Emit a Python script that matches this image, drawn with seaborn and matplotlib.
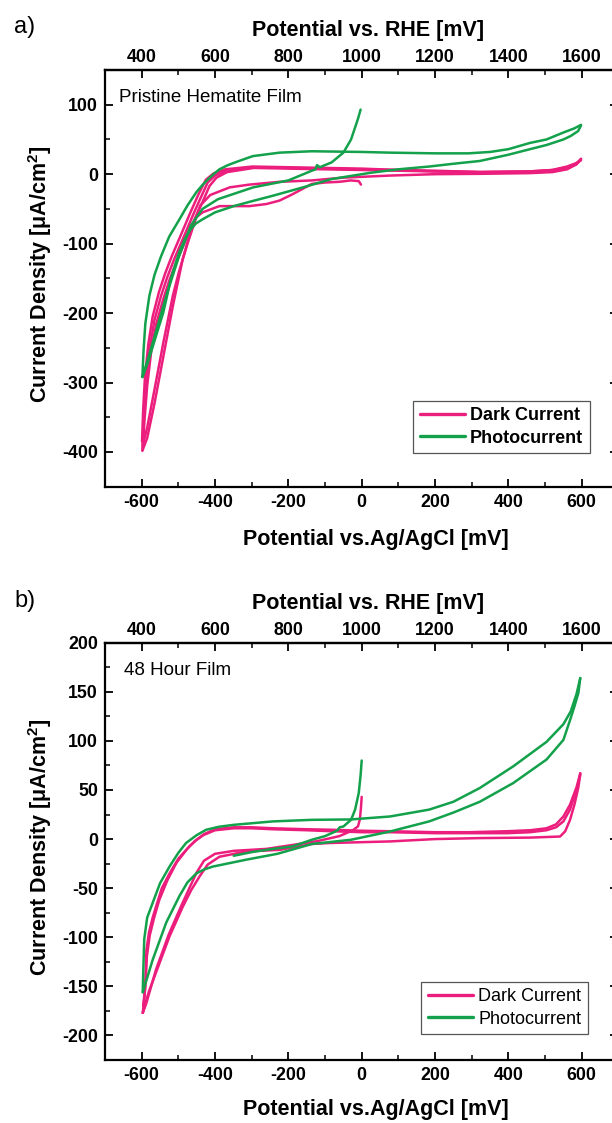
import numpy as np
import pandas as pd
import matplotlib
matplotlib.use("Agg")
import matplotlib.pyplot as plt
import seaborn as sns
from matplotlib.lines import Line2D
from matplotlib.ticker import MultipleLocator

# ----------------------------------------------------
# data (mV vs Ag/AgCl, uA/cm2)
# ----------------------------------------------------

# panel a - pristine film, dark current
dark_a_init_x = [-2, -8, -30, -61, -100, -136, -189, -224, -260, -306, -388, -434, -451, -475, -498, -515, -540, -565, -585, -597]
dark_a_init_y = [-15, -10, -9, -11, -12, -14, -29, -38, -43, -46, -46, -55, -62, -100, -140, -175, -240, -310, -365, -390]
dark_a_up1_x = [-598, -594, -588, -578, -565, -547, -530, -511, -485, -461, -440, -420, -400, -370, -297, -200, -100, 0, 100, 200, 322, 459, 520, 560, 585, 598]
dark_a_up1_y = [-398, -350, -300, -250, -210, -175, -148, -122, -90, -60, -35, -12, -2, 5, 10, 9, 8, 7, 6, 4, 3, 4, 6, 10, 15, 22]
dark_a_up2_x = [-599, -596, -591, -582, -570, -553, -536, -517, -491, -467, -446, -425, -404, -372, -298, -200, -100, 0, 100, 200, 322, 459, 520, 560, 585, 598]
dark_a_up2_y = [-385, -340, -292, -245, -205, -170, -143, -117, -85, -55, -30, -8, 1, 7, 11, 10, 9, 8, 6, 5, 3, 4, 6, 11, 16, 20]
dark_a_up3_x = [-597, -592, -585, -574, -560, -541, -524, -505, -479, -455, -434, -415, -396, -367, -294, -200, -100, 0, 100, 200, 322, 459, 520, 560, 585, 598]
dark_a_up3_y = [-395, -352, -305, -255, -215, -180, -152, -126, -94, -64, -40, -17, -5, 3, 9, 8, 7, 6, 5, 4, 3, 3, 5, 9, 14, 21]
dark_a_down_x = [598, 585, 560, 520, 459, 322, 200, 77, -50, -136, -224, -306, -360, -413, -440, -465, -488, -515, -540, -565, -585, -598]
dark_a_down_y = [22, 14, 7, 3, 1.5, 0.5, 0, -2, -5, -9, -11, -15, -19, -30, -45, -80, -122, -190, -260, -330, -380, -398]

# panel a - pristine film, photocurrent
photo_a_init_x = [-3, -10, -29, -50, -82, -114, -122, -126, -136, -200, -296, -392, -434, -466, -498, -530, -560, -585, -598]
photo_a_init_y = [93, 80, 50, 31, 17, 10, 13, 7, 5, -9, -19, -36, -50, -74, -118, -170, -225, -270, -292]
photo_a_up_x = [-598, -595, -590, -579, -565, -547, -525, -497, -475, -451, -435, -420, -404, -388, -365, -340, -297, -224, -136, 0, 77, 200, 291, 350, 400, 459, 504, 550, 580, 598]
photo_a_up_y = [-292, -255, -215, -175, -145, -118, -90, -65, -45, -26, -16, -8, 0, 7, 13, 18, 26, 31, 33, 32, 31, 30, 30, 32, 36, 45, 50, 60, 66, 71]
photo_a_down_x = [598, 590, 570, 550, 504, 459, 400, 322, 250, 184, 100, 24, -82, -160, -242, -300, -349, -400, -434, -452, -466, -482, -498, -520, -541, -565, -583, -598]
photo_a_down_y = [70, 62, 55, 50, 42, 36, 28, 19, 15, 11, 7, 2, -7, -19, -31, -39, -46, -55, -65, -71, -79, -93, -113, -150, -199, -240, -271, -292]

# panel b - 48 hour film, dark current
dark_b_init_x = [0, -2, -5, -10, -24, -61, -120, -189, -260, -349, -400, -430, -450, -470, -492, -526, -561, -588, -597]
dark_b_init_y = [43, 32, 20, 13, 9, 3, -2, -6, -10, -12, -15, -22, -34, -50, -68, -97, -133, -168, -177]
dark_b_up_x = [-597, -592, -589, -587, -580, -570, -561, -545, -524, -500, -470, -451, -430, -400, -349, -300, -242, -150, -82, 0, 77, 200, 291, 397, 459, 504, 530, 550, 568, 586, 596]
dark_b_up_y = [-177, -160, -140, -113, -95, -80, -69, -50, -35, -20, -7.5, -1, 5, 10, 12, 12, 11, 10, 9.5, 8.5, 8, 7, 7, 8, 9, 11, 15, 23, 35, 53, 67]
dark_b_up2_x = [-596, -590, -586, -578, -566, -552, -530, -505, -476, -455, -432, -400, -349, -300, -242, -150, -82, 0, 77, 200, 291, 397, 459, 504, 530, 550, 568, 586, 596]
dark_b_up2_y = [-170, -150, -120, -98, -80, -62, -42, -24, -10, -2, 4, 9, 11, 11, 10, 9, 8, 7, 7, 6, 6, 6, 7, 9, 12, 18, 30, 50, 65]
dark_b_down_x = [596, 591, 580, 568, 555, 541, 459, 322, 200, 77, -87, -136, -224, -315, -388, -420, -442, -465, -488, -524, -561, -580, -592, -597]
dark_b_down_y = [67, 53, 35, 19.5, 8, 2.6, 1.5, 1, 0, -2.4, -4, -5, -11, -12.6, -18, -26, -38, -52, -69, -99, -136, -155, -170, -177]

# panel b - 48 hour film, photocurrent
photo_b_init_x = [0, -3, -8, -18, -29, -50, -60, -66, -72, -100, -136, -189, -242, -296, -349]
photo_b_init_y = [80, 65, 47, 30, 19.6, 12.8, 12, 9, 7.7, 3, -0.7, -7.5, -10, -13, -17]
photo_b_up_x = [-597, -596, -593, -585, -570, -550, -524, -500, -479, -450, -424, -390, -349, -242, -136, -29, 77, 184, 250, 322, 413, 504, 550, 570, 586, 596]
photo_b_up_y = [-156, -140, -102, -80, -65, -45, -28, -14, -4, 4, 9.5, 12.5, 14.5, 18, 19.6, 20, 23, 30, 38, 52, 74, 99, 117, 130, 148, 164]
photo_b_down_x = [596, 591, 580, 568, 550, 504, 413, 322, 250, 184, 77, -29, -136, -230, -315, -406, -430, -451, -475, -497, -533, -570, -588, -597]
photo_b_down_y = [164, 149, 135, 121, 101, 81, 57, 38, 27, 18, 7.7, -0.7, -5, -15, -21, -28, -31, -35, -44, -58, -85, -123, -145, -156]

series_labels = ['Dark Current', 'Photocurrent']
agcl_ticks = [-600, -400, -200, 0, 200, 400, 600]
rhe_ticks = [400, 600, 800, 1000, 1200, 1400, 1600]
ya_ticks = [-400, -300, -200, -100, 0, 100]
yb_ticks = [-200, -150, -100, -50, 0, 50, 100, 150, 200]

traces = [
    ('a', 'Dark Current', dark_a_init_x, dark_a_init_y),
    ('a', 'Dark Current', dark_a_up1_x, dark_a_up1_y),
    ('a', 'Dark Current', dark_a_up2_x, dark_a_up2_y),
    ('a', 'Dark Current', dark_a_up3_x, dark_a_up3_y),
    ('a', 'Dark Current', dark_a_down_x, dark_a_down_y),
    ('a', 'Photocurrent', photo_a_init_x, photo_a_init_y),
    ('a', 'Photocurrent', photo_a_up_x, photo_a_up_y),
    ('a', 'Photocurrent', photo_a_down_x, photo_a_down_y),
    ('b', 'Dark Current', dark_b_init_x, dark_b_init_y),
    ('b', 'Dark Current', dark_b_up_x, dark_b_up_y),
    ('b', 'Dark Current', dark_b_up2_x, dark_b_up2_y),
    ('b', 'Dark Current', dark_b_down_x, dark_b_down_y),
    ('b', 'Photocurrent', photo_b_init_x, photo_b_init_y),
    ('b', 'Photocurrent', photo_b_up_x, photo_b_up_y),
    ('b', 'Photocurrent', photo_b_down_x, photo_b_down_y),
]

rows = []
for i, (panel, series, xs, ys) in enumerate(traces):
    for x, y in zip(xs, ys):
        rows.append({'panel': panel, 'series': series, 'trace': i, 'E': x, 'J': y})
df = pd.DataFrame(rows)

# ----------------------------------------------------
# style
# ----------------------------------------------------
sns.set_style('ticks', rc={'text.color': 'black', 'axes.labelcolor': 'black',
                           'xtick.color': 'black', 'ytick.color': 'black',
                           'axes.edgecolor': 'black'})
plt.rcParams['font.family'] = ['Liberation Sans', 'DejaVu Sans']
plt.rcParams['axes.unicode_minus'] = False
plt.rcParams['mathtext.fontset'] = 'custom'
plt.rcParams['mathtext.rm'] = 'Liberation Sans'
plt.rcParams['mathtext.bf'] = 'Liberation Sans:bold'

PINK = '#EC1E7D'
GREEN = '#13A14B'
palette = {'Dark Current': PINK, 'Photocurrent': GREEN}

fig = plt.figure(figsize=(6.12, 11.23), dpi=100)
ax_a = fig.add_axes([105 / 612, 1 - 486.7 / 1123, 513.4 / 612, 416.7 / 1123])
ax_b = fig.add_axes([105 / 612, 1 - 1060 / 1123, 513.4 / 612, 417.3 / 1123])

setup = {
    'a': dict(ax=ax_a, ylim=(-450, 150), yticks=ya_ticks, yminor=50,
              note='Pristine Hematite Film', note_x=0.028, legend_weight='bold',
              anchor=(0.944, 0.206), xl_y=-0.101),
    'b': dict(ax=ax_b, ylim=(-225, 200), yticks=yb_ticks, yminor=25,
              note='48 Hour Film', note_x=0.037, legend_weight='normal',
              anchor=(0.940, 0.187), xl_y=-0.094),
}

for panel, cfg in setup.items():
    ax = cfg['ax']
    sub = df[df['panel'] == panel]
    for series in series_labels:
        sns.lineplot(data=sub[sub['series'] == series], x='E', y='J',
                     units='trace', estimator=None, sort=False,
                     color=palette[series], lw=1.8, legend=False, ax=ax)

    ax.set_xlim(-700, 700)
    ax.set_ylim(*cfg['ylim'])
    ax.set_xticks(agcl_ticks)
    ax.xaxis.set_minor_locator(MultipleLocator(100))
    ax.set_yticks(cfg['yticks'])
    ax.yaxis.set_minor_locator(MultipleLocator(cfg['yminor']))

    ax.tick_params(which='major', direction='in', length=6, width=1.3,
                   labelsize=12.8, pad=5, top=False, right=True, colors='black')
    ax.tick_params(which='minor', direction='in', length=3.5, width=1.1,
                   top=False, right=False, colors='black')
    for lab in ax.get_xticklabels() + ax.get_yticklabels():
        lab.set_fontweight('bold')
    for sp in ax.spines.values():
        sp.set_linewidth(1.6)
        sp.set_color('black')

    ax.set_xlabel('Potential vs.Ag/AgCl [mV]', fontsize=15.5, fontweight='bold')
    ax.xaxis.set_label_coords(0.528, cfg['xl_y'])
    ax.set_ylabel(r'Current Density [μA/cm$^{\mathbf{2}}$]', fontsize=15.5, fontweight='bold')
    ax.yaxis.set_label_coords(-0.10, 0.51)

    sec = ax.secondary_xaxis('top', functions=(lambda v: v + 1000, lambda v: v - 1000))
    sec.set_xticks(rhe_ticks)
    sec.xaxis.set_minor_locator(MultipleLocator(100))
    sec.tick_params(which='major', direction='in', length=6, width=1.3,
                    labelsize=12.8, pad=3, colors='black')
    sec.tick_params(which='minor', direction='in', length=3.5, width=1.1, colors='black')
    for lab in sec.get_xticklabels():
        lab.set_fontweight('bold')
    sec.spines['top'].set_linewidth(1.6)
    sec.set_xlabel('Potential vs. RHE [mV]', fontsize=15.5, fontweight='bold',
                   labelpad=9, x=0.512)

    ax.text(cfg['note_x'], 0.933, cfg['note'], transform=ax.transAxes,
            fontsize=13.5, ha='left', va='center')

    handles = [Line2D([], [], color=palette[s], lw=2.4) for s in series_labels]
    leg = ax.legend(handles, series_labels, loc='upper right', bbox_to_anchor=cfg['anchor'],
                    frameon=True, fancybox=False, framealpha=1, edgecolor='#555555',
                    handlelength=2.5, handletextpad=0.3, borderpad=0.35, labelspacing=0.3,
                    borderaxespad=0, prop={'size': 13, 'weight': cfg['legend_weight']})
    leg.get_frame().set_linewidth(0.9)

fig.text(14 / 612, 1 - 27 / 1123, 'a)', fontsize=17, ha='left', va='center')
fig.text(14 / 612, 1 - 601 / 1123, 'b)', fontsize=17, ha='left', va='center')

fig.savefig('out.png', dpi=100)
